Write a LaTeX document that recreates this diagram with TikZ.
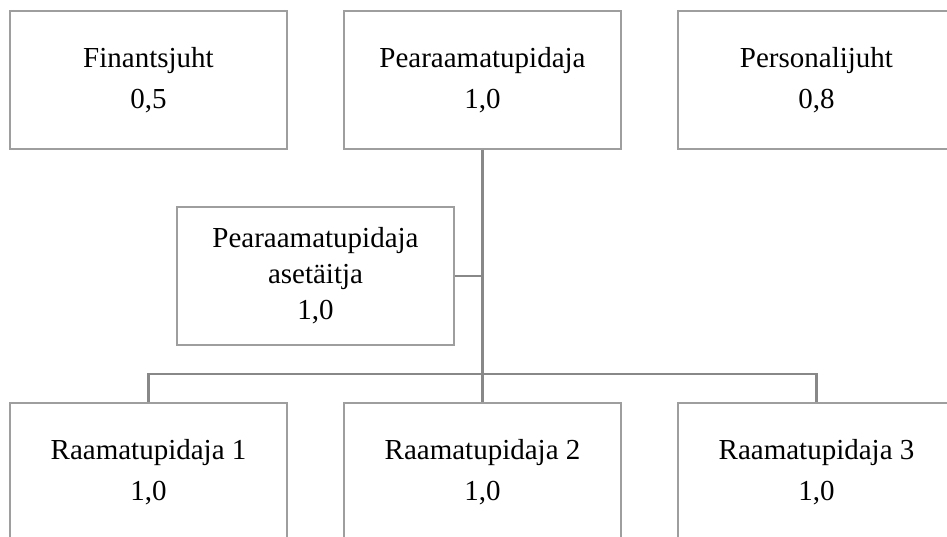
\documentclass[tikz,border=0pt]{standalone}
\usepackage{fontspec}
\setmainfont{Liberation Serif}
\definecolor{boxline}{RGB}{158,158,158}
\definecolor{linkline}{RGB}{136,136,136}
\begin{document}
\begin{tikzpicture}[x=1pt,y=-1pt,
  orgbox/.style={draw=boxline, line width=2pt, fill=white,
    minimum width=277pt, minimum height=138pt, inner sep=0pt,
    align=center, font=\fontsize{29}{41}\selectfont},
  link/.style={draw=linkline, line width=2.4pt}]
\useasboundingbox (0,0) rectangle (947,537);
\clip (0,0) rectangle (947,537);
% top row
\node[orgbox] (fin) at (148.5,80) {Finantsjuht\\0,5};
\node[orgbox] (pea) at (482.5,80) {Pearaamatupidaja\\1,0};
\node[orgbox] (per) at (816.5,80) {Personalijuht\\0,8};
% deputy
\node[orgbox, font=\fontsize{29}{36}\selectfont] (ase) at (315.5,276) {Pearaamatupidaja\\asetäitja\\1,0};
% bottom row
\node[orgbox] (r1) at (148.5,472) {Raamatupidaja 1\\1,0};
\node[orgbox] (r2) at (482.5,472) {Raamatupidaja 2\\1,0};
\node[orgbox] (r3) at (816.5,472) {Raamatupidaja 3\\1,0};
% connectors
\coordinate (bus) at (482.5,374);
\draw[link] (pea.south) -- (bus);
\draw[link] (ase.east) -- (ase.east -| pea.south);
\draw[link] (r1.north) |- (bus) -| (r3.north);
\draw[link] (bus) -- (r2.north);
\end{tikzpicture}
\end{document}
